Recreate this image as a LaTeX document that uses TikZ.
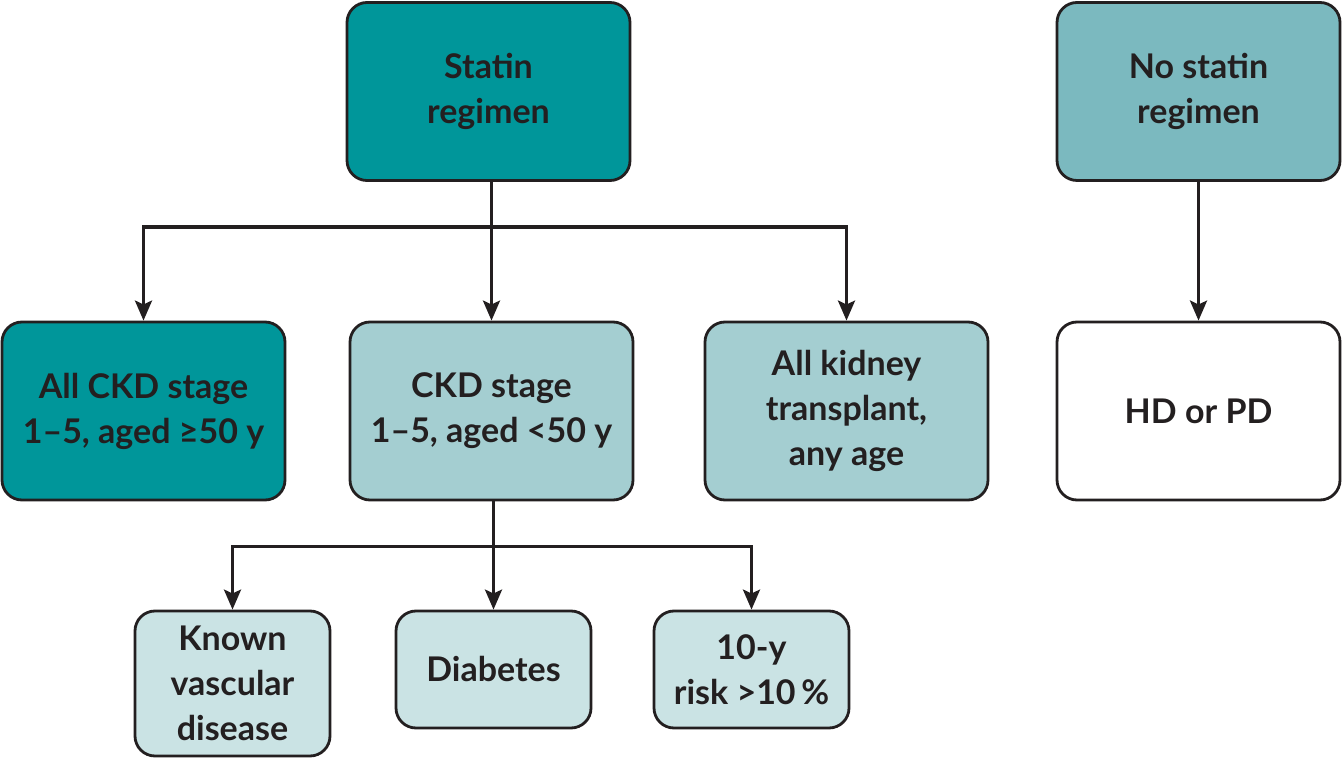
\documentclass[tikz,border=0pt]{standalone}
\usepackage{fontspec}
\setmainfont{Lato}
\usepackage{tikz}
\usetikzlibrary{arrows.meta,positioning}
\definecolor{inkdark}{HTML}{231F20}
\definecolor{tealdark}{HTML}{00969A}
\definecolor{tealmid}{HTML}{7BB9BF}
\definecolor{teallight}{HTML}{A4CED1}
\definecolor{tealpale}{HTML}{CAE3E4}
\tikzset{
    %Define standard arrow tip
    >={Stealth[length=10pt,width=8.5pt,inset=2pt]},
    %Define style for boxes
    regime/.style={
           rectangle,
           rounded corners=10pt,
           draw=inkdark, line width=1.4pt,
           minimum width=141.5pt,
           minimum height=89pt,
           align=center,
           text=inkdark,
           font=\fontsize{17}{22.5}\selectfont\bfseries},
    smallbox/.style={
           regime,
           minimum width=97.5pt,
           minimum height=58.5pt},
    % Define arrow style
    pil/.style={
           ->,
           draw=inkdark,
           line width=1.7pt}
}
\begin{document}
\begin{tikzpicture}[x=0.5pt,y=-0.5pt]
\useasboundingbox (0,0) rectangle (1342,758);
 %nodes
\node[regime, fill=tealdark](statin) at (488.5,91.5){Statin\\regimen};
\node[regime, fill=tealmid](nostatin) at (1198.5,91.5){No statin\\regimen};
\node[regime, fill=tealdark](ckdold) at (143.5,411){All CKD stage\\1--5, aged \char"2265 50 y};
\node[regime, fill=teallight](ckdyoung) at (491.5,411){CKD stage\\1--5, aged <50 y};
\node[regime, fill=teallight](transplant) at (846.5,411){All kidney\\transplant,\\any age};
\node[regime, fill=white](dialysis) at (1198.5,411){HD or PD};
\node[smallbox, fill=tealpale, minimum height=72.5pt](vascular) at (232.5,683.5){Known\\vascular\\disease};
\node[smallbox, fill=tealpale](diabetes) at (493.5,669.5){Diabetes};
\node[smallbox, fill=tealpale](risk) at (751.5,669.5){10-y\\risk >10\,\%};

 %connectors
\draw[pil] (ckdyoung.north |- statin.south) -- (ckdyoung.north);
\draw[pil] (ckdyoung.north |- statin.south) -- ++(0,45) -| (ckdold.north);
\draw[pil] (ckdyoung.north |- statin.south) -- ++(0,45) -| (transplant.north);
\draw[pil] (nostatin) -- (dialysis);
\draw[pil] (diabetes.north |- ckdyoung.south) -- (diabetes.north);
\draw[pil] (diabetes.north |- ckdyoung.south) -- ++(0,45) -| (vascular.north);
\draw[pil] (diabetes.north |- ckdyoung.south) -- ++(0,45) -| (risk.north);
\end{tikzpicture}
\end{document}
